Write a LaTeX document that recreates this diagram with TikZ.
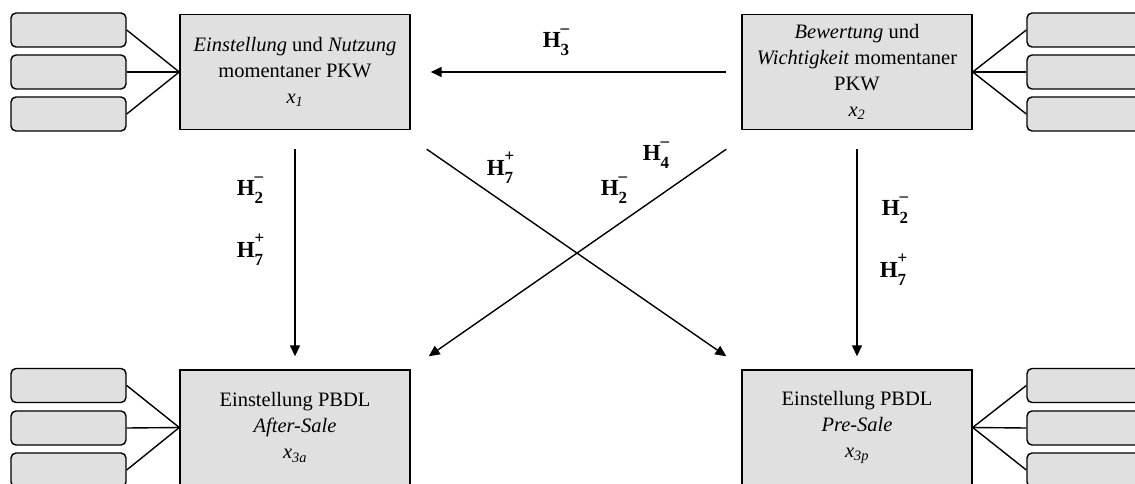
\documentclass[tikz,border=0pt]{standalone}
\usepackage{fontspec}
\setmainfont{Liberation Serif}
\usetikzlibrary{arrows.meta}
\definecolor{boxgray}{RGB}{224,224,224}
\newcommand{\hlab}[2]{{\fontsize{23}{25}\selectfont\textbf{H}\makebox[0pt][l]{\raisebox{14pt}{\fontsize{17}{18}\selectfont\textbf{#2}}}\raisebox{-8pt}{\fontsize{17}{18}\selectfont\textbf{#1}}}}
\newcommand{\xvar}[1]{\textit{x}\textsubscript{\textit{#1}}}
\begin{document}
\begin{tikzpicture}[x=1pt,y=-1pt,
  mainbox/.style={draw, line width=1.4pt, fill=boxgray, minimum width=230pt, minimum height=115pt, inner sep=0pt, align=center, font=\fontsize{20.5}{26}\selectfont},
  smallbox/.style={draw, line width=1.4pt, fill=boxgray, rounded corners=5pt, minimum width=115pt, minimum height=34pt, inner sep=0pt},
  conn/.style={line width=1.4pt},
  arr/.style={line width=1.4pt, -{Triangle[length=11pt,width=10pt]}},
  lab/.style={inner sep=0pt}]
\useasboundingbox (0,0) rectangle (1135,484);
\clip (0,0) rectangle (1135,484);
% main boxes
\node[mainbox] (x1) at (295,72) {\textit{Einstellung} und \textit{Nutzung}\\momentaner PKW\\\xvar{1}};
\node[mainbox] (x2) at (857,72) {\textit{Bewertung} und\\\textit{Wichtigkeit} momentaner\\PKW\\\xvar{2}};
\node[mainbox] (x3a) at (295,427.5) {Einstellung PBDL\\\textit{After-Sale}\\\xvar{3a}};
\node[mainbox] (x3p) at (857,427.5) {Einstellung PBDL\\\textit{Pre-Sale}\\\xvar{3p}};
% small boxes left top
\node[smallbox] (a1) at (68.5,30) {};
\node[smallbox] (a2) at (68.5,72) {};
\node[smallbox] (a3) at (68.5,114) {};
% right top
\node[smallbox] (b1) at (1084.5,30) {};
\node[smallbox] (b2) at (1084.5,72) {};
\node[smallbox] (b3) at (1084.5,114) {};
% left bottom
\node[smallbox] (c1) at (68.5,385.5) {};
\node[smallbox] (c2) at (68.5,428) {};
\node[smallbox] (c3) at (68.5,470) {};
% right bottom
\node[smallbox] (d1) at (1084.5,385.5) {};
\node[smallbox] (d2) at (1084.5,428) {};
\node[smallbox] (d3) at (1084.5,470) {};
% connectors to indicators
\foreach \s in {a1,a2,a3} \draw[conn] (\s.east) -- (x1.west);
\foreach \s in {b1,b2,b3} \draw[conn] (\s.west) -- (x2.east);
\foreach \s in {c1,c2,c3} \draw[conn] (\s.east) -- (x3a.west);
\foreach \s in {d1,d2,d3} \draw[conn] (\s.west) -- (x3p.east);
% arrows
\draw[arr] ([xshift=-15pt]x2.west) -- ([xshift=20pt]x1.east);
\draw[arr] ([yshift=-19pt]x1.south) -- ([yshift=13pt]x3a.north);
\draw[arr] ([yshift=-19pt]x2.south) -- ([yshift=13pt]x3p.north);
\draw[arr] ([xshift=16pt,yshift=-19pt]x1.south east) -- ([xshift=-15pt,yshift=13pt]x3p.north west);
\draw[arr] ([xshift=-15pt,yshift=-19pt]x2.south west) -- ([xshift=18pt,yshift=13pt]x3a.north east);
% labels
\node[lab] (h3) at (556,42) {\hlab{3}{--}};
\node[lab] (h2l) at (250,190) {\hlab{2}{--}};
\node[lab] (h7l) at (250,250) {\hlab{7}{+}};
\node[lab] (h7d) at (500,168) {\hlab{7}{+}};
\node[lab] (h2d) at (614,190) {\hlab{2}{--}};
\node[lab] (h4d) at (656,155) {\hlab{4}{--}};
\node[lab] (h2r) at (895,210) {\hlab{2}{--}};
\node[lab] (h7r) at (893,270) {\hlab{7}{+}};
\end{tikzpicture}
\end{document}
